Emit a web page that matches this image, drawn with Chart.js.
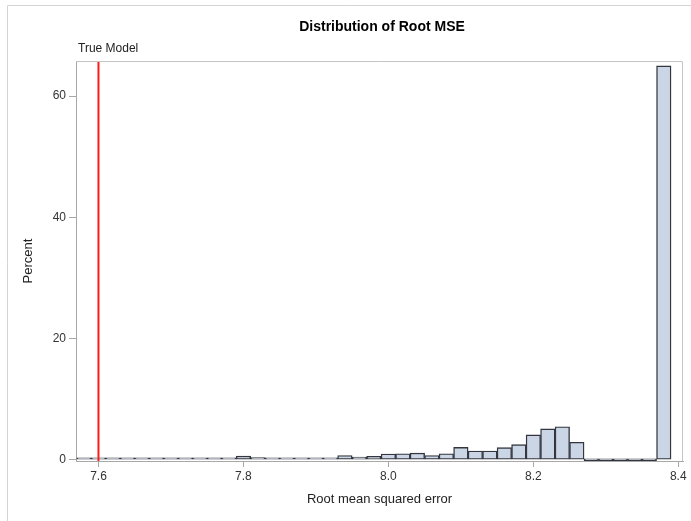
<!DOCTYPE html>
<html>
<head>
<meta charset="utf-8">
<script src="https://cdn.jsdelivr.net/npm/chart.js@4/dist/chart.umd.min.js"></script>
<style>
  body { margin: 0; background: #fff; }
  canvas { display: block; }
</style>
</head>
<body>
<canvas id="myChart" width="691" height="521"></canvas>
<script>
'use strict';

// histogram bins (midpoints) and percent of samples in each
let binMids = [7.58, 7.60, 7.62, 7.64, 7.66, 7.68, 7.70, 7.72, 7.74, 7.76,
  7.78, 7.80, 7.82, 7.84, 7.86, 7.88, 7.90, 7.92, 7.94, 7.96,
  7.98, 8.00, 8.02, 8.04, 8.06, 8.08, 8.10, 8.12, 8.14, 8.16,
  8.18, 8.20, 8.22, 8.24, 8.26, 8.28, 8.30, 8.32, 8.34, 8.36, 8.38];
let percents = [0.1, 0.2, 0.1, 0.05, 0.05, 0.1, 0.3, 0.1, 0.1, 0.3,
  0.2, 0.6, 0.35, 0.1, 0.1, 0.3, 0.3, 0.3, 0.7, 0.45,
  0.55, 0.95, 1.0, 1.1, 0.7, 1.0, 2.05, 1.45, 1.45, 2.0,
  2.5, 4.1, 5.1, 5.45, 2.9, 0, 0, 0, 0, 0, 65.0];

let xTicks = [7.6, 7.8, 8.0, 8.2, 8.4];
let yTicks = [0, 20, 40, 60];
let trueModel = 7.6;

let chartTitle = 'Distribution of Root MSE';
let xTitle = 'Root mean squared error';
let yTitle = 'Percent';
let refLabel = 'True Model';

let font = '"Liberation Sans", Arial, sans-serif';

let bars = [];
for (let i = 0; i < binMids.length; i++) {
  bars.push({ x: binMids[i], y: percents[i] });
}

// frame, titles, and the reference line label
const decorations = {
  id: 'decorations',
  beforeDraw(chart) {
    const c = chart.ctx;
    c.save();
    c.strokeStyle = '#d4d4d4';
    c.lineWidth = 1;
    c.beginPath();
    c.moveTo(7.5, 521);
    c.lineTo(7.5, 5.5);
    c.lineTo(691, 5.5);
    c.stroke();
    c.restore();
  },
  afterDraw(chart) {
    const c = chart.ctx;
    const a = chart.chartArea;
    c.save();
    c.strokeStyle = '#c4c4c4';
    c.lineWidth = 1;
    c.beginPath();
    c.moveTo(a.left, a.top + 0.5);
    c.lineTo(a.right - 0.5, a.top + 0.5);
    c.lineTo(a.right - 0.5, a.bottom);
    c.stroke();

    c.fillStyle = '#000';
    c.textAlign = 'center';
    c.textBaseline = 'middle';
    c.font = 'bold 14px ' + font;
    c.fillText(chartTitle, 382, 27);

    c.fillStyle = '#222';
    c.font = '13px ' + font;
    c.fillText(xTitle, (a.left + a.right) / 2, 499);

    c.save();
    c.translate(28, (a.top + a.bottom) / 2);
    c.rotate(-Math.PI / 2);
    c.fillText(yTitle, 0, 0);
    c.restore();

    c.textAlign = 'left';
    c.font = '12px ' + font;
    c.fillText(refLabel, a.left + 2, 49);
    c.restore();
  }
};

const ctx = document.getElementById('myChart').getContext('2d');

const myChart = new Chart(ctx, {
  type: 'bar',
  data: {
    datasets: [
      {
        type: 'line',
        data: [{ x: trueModel, y: -0.2 }, { x: trueModel, y: 65.8 }],
        borderColor: '#ff1a1a',
        borderWidth: 2,
        pointRadius: 0,
        order: 0
      },
      {
        data: bars,
        backgroundColor: '#cad5e6',
        borderColor: '#33363d',
        borderWidth: 1.4,
        borderSkipped: false,
        minBarLength: 2,
        barPercentage: 1,
        categoryPercentage: 1,
        order: 1
      }
    ]
  },
  options: {
    responsive: false,
    animation: false,
    layout: { padding: { top: 61, right: 8, bottom: 0, left: 0 } },
    plugins: {
      legend: { display: false },
      title: { display: false },
      tooltip: { enabled: false }
    },
    scales: {
      x: {
        type: 'linear',
        offset: false,
        min: 7.569,
        max: 8.4065,
        afterFit(scale) { scale.height = 60; },
        afterBuildTicks(scale) { scale.ticks = xTicks.map(v => ({ value: v })); },
        ticks: {
          callback: v => v.toFixed(1),
          color: '#333',
          font: { size: 12, family: font },
          padding: 2,
          maxRotation: 0
        },
        grid: { offset: false, drawOnChartArea: false, drawTicks: true, tickLength: 6, color: '#a8a8a8' },
        border: { display: true, color: '#a8a8a8' }
      },
      y: {
        min: -0.2,
        max: 65.8,
        afterFit(scale) { scale.width = 76; },
        afterBuildTicks(scale) { scale.ticks = yTicks.map(v => ({ value: v })); },
        ticks: {
          color: '#333',
          font: { size: 12, family: font },
          padding: 3
        },
        grid: { drawOnChartArea: false, drawTicks: true, tickLength: 7, color: '#a8a8a8' },
        border: { display: true, color: '#a8a8a8' }
      }
    }
  },
  plugins: [decorations]
});
</script>
</body>
</html>
